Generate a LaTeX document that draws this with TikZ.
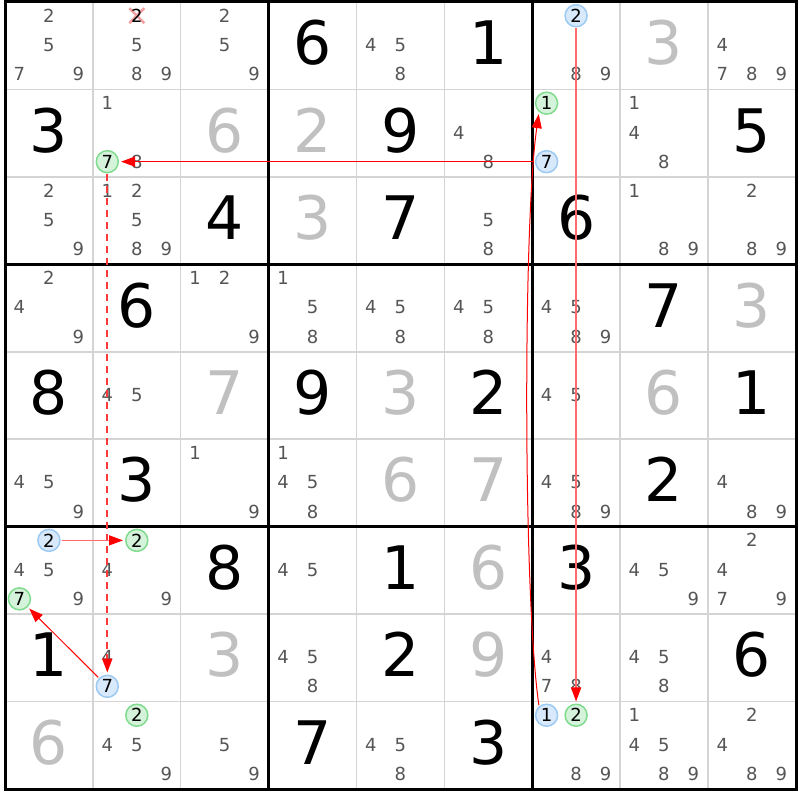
\documentclass[tikz,border=0pt]{standalone}
\usepackage{fontspec}
\setmainfont{DejaVu Sans}
\usepackage{xcolor}
\usetikzlibrary{arrows.meta}

\definecolor{candgray}{HTML}{555555}
\definecolor{solvedgray}{HTML}{C0C0C0}
\definecolor{thingrid}{HTML}{D4D4D4}
\definecolor{ringblue}{HTML}{9DCAF3}
\definecolor{fillblue}{HTML}{D8E9FB}
\definecolor{ringgreen}{HTML}{80DB8F}
\definecolor{fillgreen}{HTML}{D5F3DA}
\definecolor{softred}{HTML}{FF6A6A}
\definecolor{dashred}{HTML}{FF3A3A}
\definecolor{crosspink}{HTML}{F4A0A0}

% cell size in px
\newcommand{\cw}{87.86}
\newcommand{\ch}{87.44}

% position of candidate #3 in cell row #1, column #2
\newcommand{\candxy}[3]{%
  \pgfmathsetmacro\cx{5+\cw*(#2-0.5)+(mod(#3-1,3)-1)*29.5}%
  \pgfmathsetmacro\cy{2+\ch*(#1-0.5)+(div(#3-1,3)-1)*29.25-0.75}}

\newcommand{\cands}[3]{\foreach \dg in {#3}{\candxy{#1}{#2}{\dg}\node[cand] (c#1#2\dg) at (\cx,\cy+6.6) {\dg};}}
\newcommand{\given}[3]{\node[givendigit] (g#1#2) at ({5+\cw*(#2-0.5)},{2+\ch*(#1-0.5)+19}) {#3};}
\newcommand{\solved}[3]{\node[solveddigit] (s#1#2) at ({5+\cw*(#2-0.5)},{2+\ch*(#1-0.5)+19}) {#3};}

\tikzset{
  cand/.style={anchor=base, inner sep=0pt, text=candgray, font=\fontsize{18}{18}\selectfont},
  givendigit/.style={anchor=base, inner sep=0pt, font=\fontsize{60}{60}\selectfont},
  solveddigit/.style={givendigit, text=solvedgray},
  ring/.style={circle, inner sep=0pt, minimum size=22pt, line width=1.5pt, font=\fontsize{18}{18}\selectfont},
  bluering/.style={ring, draw=ringblue, fill=fillblue},
  greenring/.style={ring, draw=ringgreen, fill=fillgreen},
  gridthin/.style={draw=thingrid, line width=1.5pt},
  gridthick/.style={draw=black, line width=3pt},
  crossmark/.style={draw=crosspink, line width=2.5pt},
  stronglink/.style={draw=red, line width=1pt, -{Triangle[length=14pt,width=10pt]}, shorten >=2pt, shorten <=1pt},
  weaklink/.style={stronglink, draw=softred, line width=1.2pt, -{Triangle[length=14pt,width=10pt,color=red]}},
  dashlink/.style={stronglink, draw=dashred, line width=2pt, dash pattern=on 7pt off 5pt, -{Triangle[length=14pt,width=10pt,color=red]}},
}

\begin{document}
\begin{tikzpicture}[x=1pt,y=-1pt]
\fill[white] (0,0) rectangle (800,800);
\useasboundingbox (0,0) rectangle (800,800);

% grid
\foreach \i in {1,2,4,5,7,8} {
  \draw[gridthin] ({5+\cw*\i},2) -- ({5+\cw*\i},789);
  \draw[gridthin] (5,{2+\ch*\i}) -- (796,{2+\ch*\i});
}
\foreach \i in {3,6} {
  \draw[gridthick] ({5+\cw*\i},2) -- ({5+\cw*\i},789);
  \draw[gridthick] (5,{2+\ch*\i}) -- (796,{2+\ch*\i});
}
\draw[gridthick] (5,2) rectangle (796,789);

% row 1
\cands{1}{1}{2,5,7,9}
\candxy{1}{2}{2}
\draw[crossmark] (\cx-7.5,\cy-7.5) -- (\cx+7.5,\cy+7.5) (\cx-7.5,\cy+7.5) -- (\cx+7.5,\cy-7.5);
\node[cand, text=black] (twoCrossed) at (\cx,\cy+6.6) {2};
\cands{1}{2}{5,8,9}
\cands{1}{3}{2,5,9}
\given{1}{4}{6}
\cands{1}{5}{4,5,8}
\given{1}{6}{1}
\candxy{1}{7}{2}\node[bluering] (twoTop) at (\cx,\cy) {2};
\cands{1}{7}{8,9}
\solved{1}{8}{3}
\cands{1}{9}{4,7,8,9}

% row 2
\given{2}{1}{3}
\cands{2}{2}{1,8}
\candxy{2}{2}{7}\node[greenring] (sevenMid) at (\cx,\cy) {7};
\solved{2}{3}{6}
\solved{2}{4}{2}
\given{2}{5}{9}
\cands{2}{6}{4,8}
\candxy{2}{7}{1}\node[greenring] (oneTop) at (\cx,\cy) {1};
\candxy{2}{7}{7}\node[bluering] (sevenStart) at (\cx,\cy) {7};
\cands{2}{8}{1,4,8}
\given{2}{9}{5}

% row 3
\cands{3}{1}{2,5,9}
\cands{3}{2}{1,2,5,8,9}
\given{3}{3}{4}
\solved{3}{4}{3}
\given{3}{5}{7}
\cands{3}{6}{5,8}
\given{3}{7}{6}
\cands{3}{8}{1,8,9}
\cands{3}{9}{2,8,9}

% row 4
\cands{4}{1}{2,4,9}
\given{4}{2}{6}
\cands{4}{3}{1,2,9}
\cands{4}{4}{1,5,8}
\cands{4}{5}{4,5,8}
\cands{4}{6}{4,5,8}
\cands{4}{7}{4,5,8,9}
\given{4}{8}{7}
\solved{4}{9}{3}

% row 5
\given{5}{1}{8}
\cands{5}{2}{4,5}
\solved{5}{3}{7}
\given{5}{4}{9}
\solved{5}{5}{3}
\given{5}{6}{2}
\cands{5}{7}{4,5}
\solved{5}{8}{6}
\given{5}{9}{1}

% row 6
\cands{6}{1}{4,5,9}
\given{6}{2}{3}
\cands{6}{3}{1,9}
\cands{6}{4}{1,4,5,8}
\solved{6}{5}{6}
\solved{6}{6}{7}
\cands{6}{7}{4,5,8,9}
\given{6}{8}{2}
\cands{6}{9}{4,8,9}

% row 7
\candxy{7}{1}{2}\node[bluering] (twoLeft) at (\cx,\cy) {2};
\candxy{7}{1}{7}\node[greenring] (sevenCorner) at (\cx,\cy) {7};
\cands{7}{1}{4,5,9}
\candxy{7}{2}{2}\node[greenring] (twoRight) at (\cx,\cy) {2};
\cands{7}{2}{4,9}
\given{7}{3}{8}
\cands{7}{4}{4,5}
\given{7}{5}{1}
\solved{7}{6}{6}
\given{7}{7}{3}
\cands{7}{8}{4,5,9}
\cands{7}{9}{2,4,7,9}

% row 8
\given{8}{1}{1}
\cands{8}{2}{4}
\candxy{8}{2}{7}\node[bluering] (sevenLow) at (\cx,\cy) {7};
\solved{8}{3}{3}
\cands{8}{4}{4,5,8}
\given{8}{5}{2}
\solved{8}{6}{9}
\cands{8}{7}{4,7,8}
\cands{8}{8}{4,5,8}
\given{8}{9}{6}

% row 9
\solved{9}{1}{6}
\candxy{9}{2}{2}\node[greenring] (twoBox) at (\cx,\cy) {2};
\cands{9}{2}{4,5,9}
\cands{9}{3}{5,9}
\given{9}{4}{7}
\cands{9}{5}{4,5,8}
\given{9}{6}{3}
\candxy{9}{7}{1}\node[bluering] (oneLow) at (\cx,\cy) {1};
\candxy{9}{7}{2}\node[greenring] (twoLow) at (\cx,\cy) {2};
\cands{9}{7}{8,9}
\cands{9}{8}{1,4,5,8,9}
\cands{9}{9}{2,4,8,9}

% chain
\draw[stronglink] (sevenStart) -- (sevenMid);
\draw[dashlink] (sevenMid) -- (sevenLow);
\draw[stronglink] (sevenLow) -- (sevenCorner);
\draw[weaklink] (twoLeft) -- (twoRight);
\draw[stronglink] (oneLow.130) .. controls +(-16,-110) and +(-16,110) .. (oneTop.230);
\draw[weaklink] (twoTop) -- (twoLow);
\end{tikzpicture}
\end{document}
